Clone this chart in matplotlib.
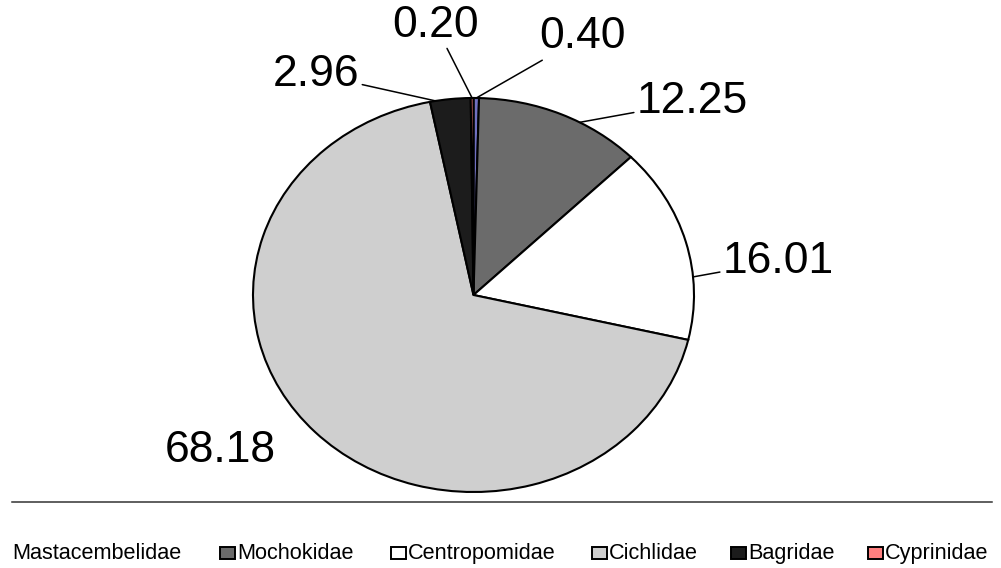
import numpy as np
import matplotlib
matplotlib.use("Agg")
import matplotlib.pyplot as plt
from matplotlib.lines import Line2D
from matplotlib.patches import Rectangle

plt.rcParams["font.family"] = ["Liberation Sans", "DejaVu Sans"]

# family shares (%), clockwise from 12 o'clock
families = ["Mastacembelidae", "Mochokidae", "Centropomidae",
            "Cichlidae", "Bagridae", "Cyprinidae"]
shares = [0.40, 12.25, 16.01, 68.18, 2.96, 0.20]
value_labels = ["0.40", "12.25", "16.01", "68.18", "2.96", "0.20"]
colors = ["#7070c0", "#6b6b6b", "#ffffff", "#cfcfcf", "#1c1c1c", "#ff8080"]

# label text (left edge x, centre y) in pie units, and where along the
# wedge the leader line touches (0 = start edge, 1 = end edge)
label_pos = [(0.30, 1.31), (0.74, 0.98), (1.13, 0.17),
             (-1.40, -0.79), (-0.91, 1.12), (-0.37, 1.37)]
leader_frac = [0.5, 0.62, 0.68, None, 0.14, 0.5]

# legend text left edges (px); the first entry shows no swatch
legend_x = [12, 237, 408, 609, 748, 885]
show_swatch = [False, True, True, True, True, True]

W, H = 1001, 568
fig = plt.figure(figsize=(W / 100, H / 100), dpi=100)

# pie drawn slightly wider than tall, like the original
cx, cy, rx, ry = 473.5, 295, 220.5, 197
ax = fig.add_axes([(cx - rx) / W, 1 - (cy + ry) / H, 2 * rx / W, 2 * ry / H])

wedges, _ = ax.pie(
    shares,
    colors=colors,
    startangle=90,
    counterclock=False,
    wedgeprops=dict(edgecolor="black", linewidth=1.5),
)
ax.set_aspect("auto")
ax.set_xlim(-1, 1)
ax.set_ylim(-1, 1)
ax.axis("off")

cum = np.cumsum([0] + shares)
for i, txt in enumerate(value_labels):
    tx, ty = label_pos[i]
    if leader_frac[i] is None:
        ax.text(tx, ty, txt, ha="left", va="center", fontsize=32,
                clip_on=False)
        continue
    f = leader_frac[i]
    ang = (cum[i] + f * shares[i]) / 100 * 2 * np.pi
    anchor = (np.sin(ang), np.cos(ang))
    ax.annotate(
        txt, xy=anchor, xytext=(tx, ty),
        ha="left", va="center", fontsize=32,
        annotation_clip=False,
        arrowprops=dict(arrowstyle="-", color="black", lw=1.1,
                        shrinkA=0, shrinkB=0),
    )

# rule above the legend
fig.add_artist(Line2D([12 / W, 992 / W], [1 - 502 / H, 1 - 502 / H],
                      color="#333333", lw=1.1))

# legend row
base_y = 559
for name, col, x, sw in zip(families, colors, legend_x, show_swatch):
    if sw:
        fig.add_artist(Rectangle(((x - 17) / W, 1 - base_y / H),
                                 15 / W, 12 / H,
                                 facecolor=col, edgecolor="black", lw=1.4,
                                 transform=fig.transFigure))
    fig.text(x / W, 1 - base_y / H, name, ha="left", va="baseline",
             fontsize=15.6)

fig.savefig("out.png", dpi=100)
